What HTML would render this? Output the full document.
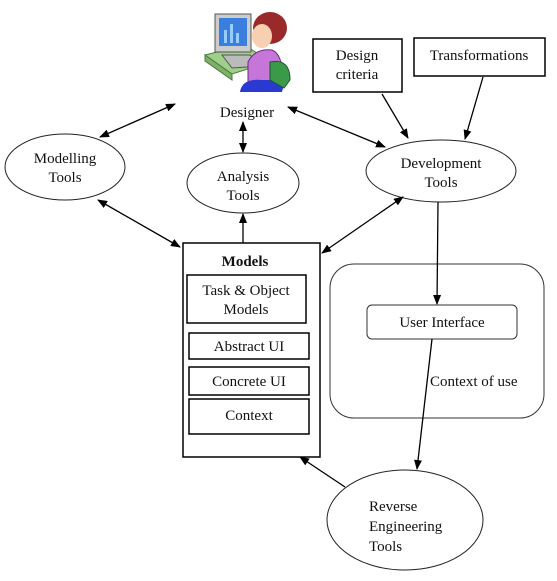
<!DOCTYPE html>
<html><head><style>
html,body{margin:0;padding:0;background:#fff;}
svg text{font-family:"Liberation Serif",serif;font-size:15px;fill:#111;}
</style></head><body>
<svg width="557" height="576" viewBox="0 0 557 576" xmlns="http://www.w3.org/2000/svg">
<defs>
<marker id="a" markerWidth="10" markerHeight="10" refX="9" refY="5" orient="auto-start-reverse" markerUnits="userSpaceOnUse">
<path d="M0,1 L10,5 L0,9 z" fill="#000"/></marker>
</defs>
<g>
<polygon points="205,55 245,45 270,62 232,74" fill="#9fd08a" stroke="#4a7a3a"/>
<polygon points="205,55 232,74 232,80 205,61" fill="#7fb06a" stroke="#4a7a3a"/>
<rect x="215" y="14" width="36" height="38" fill="#ccc" stroke="#555"/>
<rect x="219" y="18" width="28" height="28" fill="#3a7ee0"/>
<rect x="224" y="30" width="3" height="13" fill="#9cf"/><rect x="230" y="24" width="3" height="19" fill="#9cf"/><rect x="236" y="33" width="3" height="10" fill="#9cf"/>
<polygon points="222,55 250,55 262,66 232,68" fill="#bbb" stroke="#555"/>
<ellipse cx="270" cy="28" rx="17" ry="16" fill="#9a2a2a"/>
<ellipse cx="262" cy="36" rx="10" ry="12" fill="#f6d0b0"/>
<path d="M248,90 L248,62 Q255,48 272,50 Q285,55 282,90 z" fill="#c676d8" stroke="#6a2a80"/>
<path d="M240,92 Q242,78 262,80 L285,80 L282,92 z" fill="#2a3ad0"/>
<path d="M270,62 Q290,58 290,80 L284,88 L270,80 z" fill="#3a9a4a" stroke="#1a5a2a"/>
</g>
<text x="247" y="117" text-anchor="middle">Designer</text>
<rect x="313" y="39" width="89" height="53" fill="#fff" stroke="#000" stroke-width="1.5"/>
<text x="357" y="60" text-anchor="middle">Design</text><text x="357" y="79" text-anchor="middle">criteria</text>
<rect x="414" y="38" width="131" height="38" fill="#fff" stroke="#000" stroke-width="1.5"/>
<text x="479" y="60" text-anchor="middle">Transformations</text>
<ellipse cx="65" cy="167" rx="60" ry="33" fill="#fff" stroke="#222"/>
<text x="65" y="163" text-anchor="middle">Modelling</text><text x="65" y="182" text-anchor="middle">Tools</text>
<ellipse cx="243" cy="183" rx="56" ry="30" fill="#fff" stroke="#222"/>
<text x="243" y="181" text-anchor="middle">Analysis</text><text x="243" y="200" text-anchor="middle">Tools</text>
<ellipse cx="441" cy="171" rx="75" ry="31" fill="#fff" stroke="#222"/>
<text x="441" y="168" text-anchor="middle">Development</text><text x="441" y="187" text-anchor="middle">Tools</text>
<ellipse cx="405" cy="520" rx="78" ry="50" fill="#fff" stroke="#222"/>
<text x="369" y="511">Reverse</text><text x="369" y="531">Engineering</text><text x="369" y="551">Tools</text>
<rect x="183" y="243" width="137" height="214" fill="#fff" stroke="#000" stroke-width="1.5"/>
<text x="245" y="266" text-anchor="middle" font-weight="bold">Models</text>
<rect x="187" y="275" width="119" height="48" fill="#fff" stroke="#000" stroke-width="1.5"/>
<text x="246" y="295" text-anchor="middle">Task &amp; Object</text><text x="246" y="314" text-anchor="middle">Models</text>
<rect x="189" y="333" width="120" height="26" fill="#fff" stroke="#000" stroke-width="1.5"/>
<text x="249" y="351" text-anchor="middle">Abstract UI</text>
<rect x="189" y="367" width="120" height="28" fill="#fff" stroke="#000" stroke-width="1.5"/>
<text x="249" y="386" text-anchor="middle">Concrete UI</text>
<rect x="189" y="399" width="120" height="35" fill="#fff" stroke="#000" stroke-width="1.5"/>
<text x="249" y="420" text-anchor="middle">Context</text>
<rect x="330" y="264" width="214" height="154" rx="24" fill="none" stroke="#333"/>
<rect x="367" y="305" width="150" height="34" rx="5" fill="#fff" stroke="#333"/>
<text x="442" y="327" text-anchor="middle">User Interface</text>
<text x="430" y="386">Context of use</text>
<g stroke="#000" stroke-width="1.3" fill="none">
<line x1="100" y1="137" x2="175" y2="104" marker-start="url(#a)" marker-end="url(#a)"/>
<line x1="288" y1="107" x2="385" y2="147" marker-start="url(#a)" marker-end="url(#a)"/>
<line x1="243" y1="122" x2="243" y2="152" marker-start="url(#a)" marker-end="url(#a)"/>
<line x1="243" y1="243" x2="243" y2="214" marker-end="url(#a)"/>
<line x1="98" y1="200" x2="180" y2="247" marker-start="url(#a)" marker-end="url(#a)"/>
<line x1="403" y1="197" x2="322" y2="253" marker-start="url(#a)" marker-end="url(#a)"/>
<line x1="382" y1="94" x2="408" y2="138" marker-end="url(#a)"/>
<line x1="483" y1="77" x2="465" y2="139" marker-end="url(#a)"/>
<line x1="438" y1="202" x2="437" y2="304" marker-end="url(#a)"/>
<line x1="432" y1="339" x2="417" y2="469" marker-end="url(#a)"/>
<line x1="345" y1="487" x2="300" y2="457" marker-end="url(#a)"/>
</g>
</svg>
</body></html>
